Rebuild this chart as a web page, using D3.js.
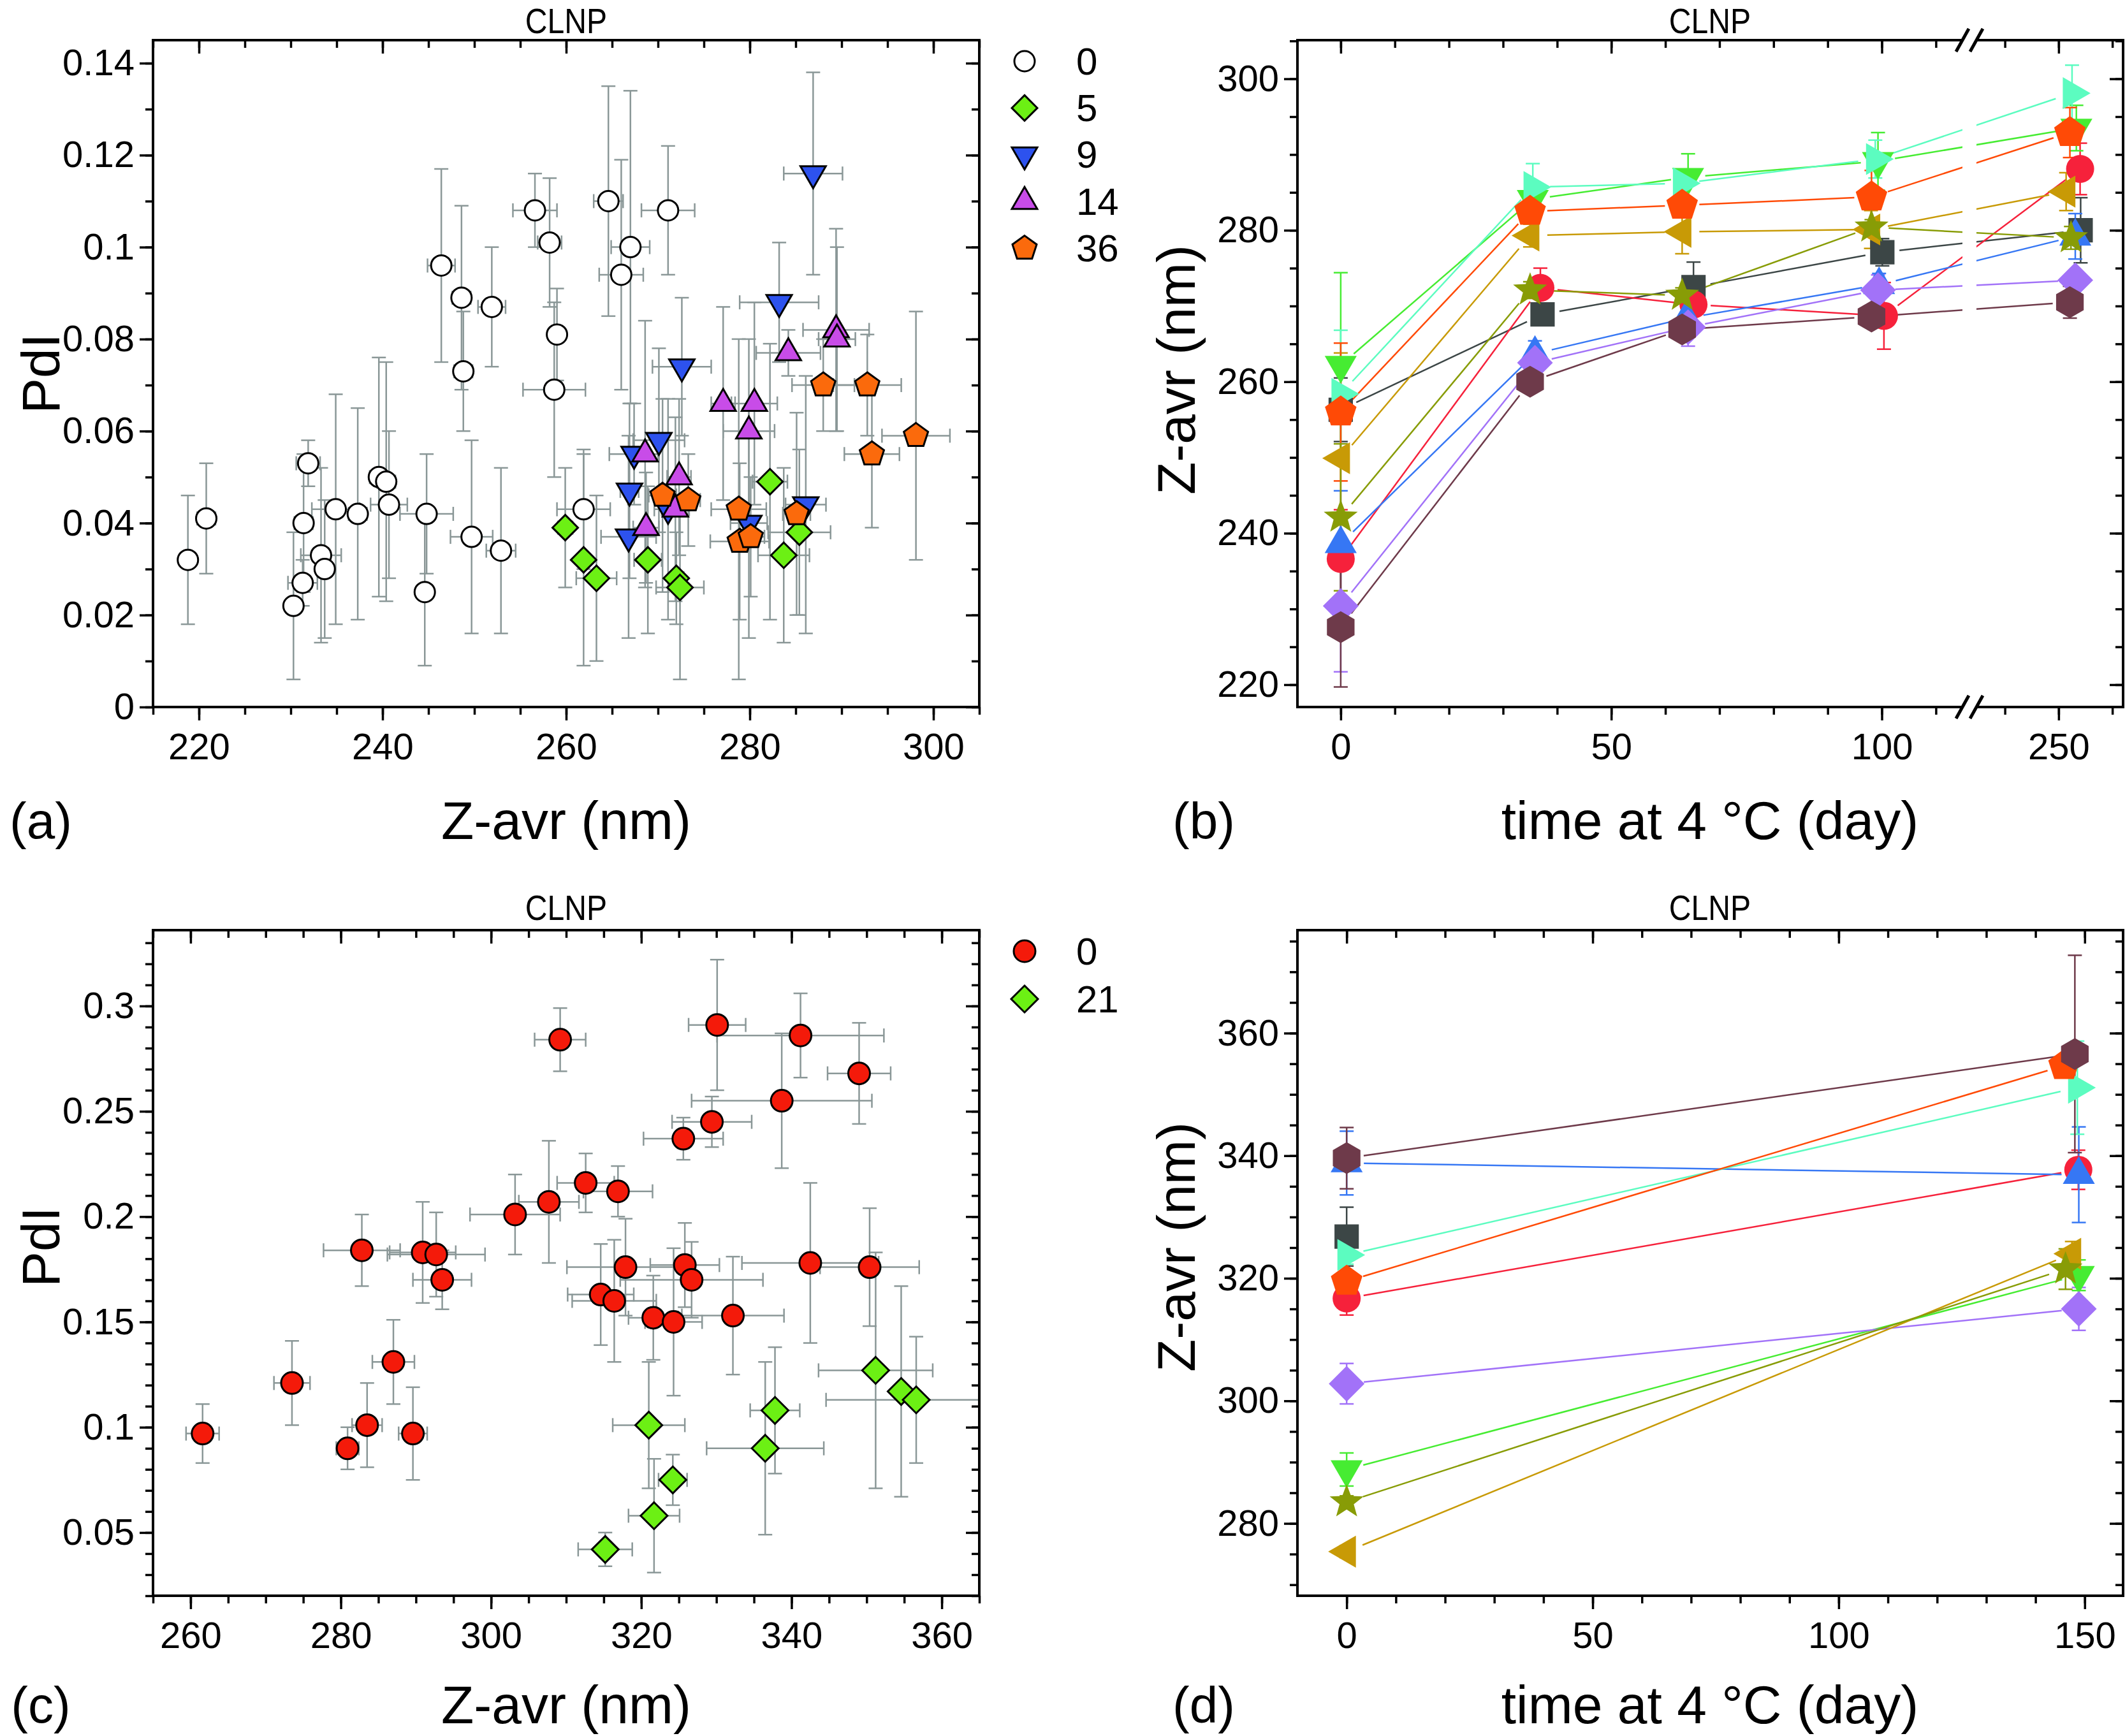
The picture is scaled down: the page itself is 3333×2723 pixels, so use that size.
<!DOCTYPE html>
<html><head><meta charset="utf-8">
<script src="https://cdnjs.cloudflare.com/ajax/libs/d3/7.8.5/d3.min.js"></script>
<style>body{margin:0;background:#fff}svg{display:block}</style>
</head><body><svg id="c" width="3333" height="2723"></svg>
<script>
// ================= DATA =================
// ---- Panel (a): PdI vs Z-avr, groups by storage day ----
const aGroupLabels = ["0","5","9","14","36"];
const a0_x  = [218.8,220.8,230.3,231.3,231.4,231.9,233.3,233.7,234.9,237.3,239.6,240.4,240.7,244.8,244.6,246.4,248.6,248.8,249.7,251.9,252.9,256.6,258.2,259.0,258.7,264.6,271.1,267.0,266.0,261.9];
const a0_y  = [0.032,0.041,0.022,0.027,0.040,0.053,0.033,0.030,0.043,0.042,0.050,0.049,0.044,0.042,0.025,0.096,0.089,0.073,0.037,0.087,0.034,0.108,0.101,0.081,0.069,0.110,0.108,0.100,0.094,0.043];
const a0_xe = [0,1.0,0,1.6,1.0,1.3,2.2,0.8,2.6,1.0,1.0,1.0,2.0,2.9,0,1.5,1.0,1.0,2.3,1.5,1.6,2.4,1.3,0.8,3.4,1.6,2.9,2.1,2.4,2.9];
const a0_ye = [0.014,0.012,0.016,0.005,0.015,0.005,0.019,0.015,0.025,0.023,0.026,0.026,0.016,0.013,0.016,0.021,0.020,0.013,0.021,0.013,0.018,0.008,0.014,0.010,0.019,0.025,0.014,0.034,0.025,0.013];

const a5_x  = [259.9,261.9,263.3,268.9,272.0,272.4,282.2,283.7,285.4];
const a5_y  = [0.039,0.032,0.028,0.032,0.028,0.026,0.049,0.033,0.038];
const a5_xe = [0.8,0.7,2.2,1.5,0.8,2.6,1.9,2.8,3.4];
const a5_ye = [0.013,0.023,0.018,0.016,0.010,0.020,0.030,0.019,0.018];

const a9_x  = [286.9,283.2,272.6,270.1,267.4,266.9,266.8,271.1,279.9,286.1];
const a9_y  = [0.116,0.088,0.074,0.058,0.055,0.047,0.037,0.043,0.040,0.044];
const a9_xe = [3.2,4.3,3.2,2.8,2.7,1.0,3.0,1.5,2.0,2.2];
const a9_ye = [0.022,0.013,0.015,0.020,0.011,0.019,0.022,0.024,0.025,0.028];

const a14_x  = [289.4,289.5,284.2,277.1,280.5,279.9,268.6,272.3,271.9,268.7];
const a14_y  = [0.082,0.080,0.077,0.066,0.066,0.060,0.055,0.050,0.043,0.039];
const a14_xe = [3.6,2.0,3.5,1.3,2.5,2.8,1.4,1.3,1.5,1.4];
const a14_ye = [0.022,0.020,0.005,0.021,0.022,0.020,0.029,0.017,0.020,0.012];

const a36_x  = [288.0,292.8,298.1,293.3,270.5,273.3,278.8,278.9,280.1,285.1];
const a36_y  = [0.070,0.070,0.059,0.055,0.046,0.045,0.043,0.036,0.037,0.042];
const a36_xe = [3.4,3.7,3.7,3.0,1.5,1.3,3.0,3.2,1.5,1.5];
const a36_ye = [0.010,0.011,0.027,0.016,0.021,0.010,0.037,0.017,0.013,0.022];

// ---- Panel (c): PdI vs Z-avr ----
const cGroupLabels = ["0","21"];
const c0_x  = [261.6,273.5,280.9,283.5,287.0,289.6,282.8,290.9,292.7,293.5,303.2,307.7,309.2,330.1,341.2,349.0,338.7,329.4,325.6,312.6,316.9,342.5,350.4,317.9,325.8,326.7,314.6,316.4,321.6,324.3,332.2];
const c0_y  = [0.097,0.121,0.090,0.101,0.131,0.097,0.184,0.183,0.182,0.170,0.201,0.207,0.284,0.291,0.286,0.268,0.255,0.245,0.237,0.216,0.212,0.178,0.176,0.176,0.177,0.170,0.163,0.160,0.152,0.150,0.153];
const c0_xe = [2.2,2.4,1.5,2.0,2.8,1.9,5.1,4.4,6.5,3.9,6.0,4.0,3.4,3.8,11.1,4.2,12.0,5.3,5.3,3.8,4.6,9.1,6.6,7.8,4.6,9.5,4.4,5.6,3.3,3.8,6.8];
const c0_ye = [0.014,0.020,0.010,0.020,0.020,0.022,0.017,0.024,0.020,0.014,0.019,0.029,0.015,0.031,0.020,0.024,0.032,0.012,0.010,0.014,0.012,0.038,0.028,0.023,0.020,0.018,0.024,0.029,0.020,0.035,0.028];

const c21_x  = [351.2,354.6,356.6,337.8,336.5,321.0,324.2,321.7,315.2];
const c21_y  = [0.127,0.117,0.113,0.108,0.090,0.101,0.075,0.058,0.042];
const c21_xe = [7.6,0,12.0,3.3,7.8,4.8,1.9,3.4,3.6];
const c21_ye = [0.056,0.050,0.030,0.030,0.041,0.030,0.012,0.027,0.008];

// ---- Panel (b): Z-avr vs time (broken axis) ----
const b_sq_day=[0,37.3,65.2,100.1,254.1], b_sq_val=[256.3,268.9,272.5,277.1,280.0], b_sq_err=[4.2,1.0,3.3,1.8,4.3];
const b_ci_day=[0,36.9,65.2,100.4,254.0], b_ci_val=[236.6,272.4,270.2,268.7,288.1], b_ci_err=[6.5,2.6,1.5,4.4,3.4];
const b_tu_day=[0,35.9,63.9,99.5,253.1],  b_tu_val=[238.6,263.7,268.4,272.8,279.2], b_tu_err=[7.0,1.7,2.0,1.5,3.0];
const b_td_day=[0,35.5,64.2,99.3,253.3],  b_td_val=[262.2,284.1,287.0,289.1,293.5], b_td_err=[12.2,2.3,3.1,3.8,3.0];
const b_di_day=[0,35.9,64.2,99.3,253.1],  b_di_val=[230.4,262.5,267.2,272.1,273.4], b_di_err=[8.7,1.0,2.5,2.0,1.0];
const b_tl_day=[0,35.0,63.1,98.0,251.4],  b_tl_val=[249.9,279.3,279.8,280.1,285.1], b_tl_err=[13.9,1.5,2.9,2.5,2.5];
const b_tr_day=[0,35.5,63.1,98.8,252.5],  b_tr_val=[258.4,285.7,286.2,289.4,298.1], b_tr_err=[8.4,3.1,1.5,2.5,3.7];
const b_pe_day=[0,35.0,63.1,98.1,252.1],  b_pe_val=[256.0,282.5,283.3,284.4,292.9], b_pe_err=[9.1,1.5,1.5,3.5,3.3];
const b_st_day=[0,35.0,63.1,98.1,252.3],  b_st_val=[242.1,272.1,271.4,280.4,279.0], b_st_err=[9.7,1.1,1.0,1.0,1.5];
const b_hx_day=[0,35.0,63.1,98.1,252.1],  b_hx_val=[227.6,260.0,266.9,268.6,270.5], b_hx_err=[7.9,1.0,1.0,1.0,2.1];

// ---- Panel (d): Z-avr vs time ----
const d_sq_day=[0],       d_sq_val=[326.8],       d_sq_err=[4.8];
const d_ci_day=[0,148.7], d_ci_val=[316.7,337.7], d_ci_err=[2.7,3.2];
const d_tu_day=[0,148.8], d_tu_val=[338.8,336.9], d_tu_err=[5.2,7.8];
const d_td_day=[0,148.8], d_td_val=[288.8,320.5], d_td_err=[2.7,2.5];
const d_di_day=[0,148.8], d_di_val=[302.8,315.0], d_di_err=[3.3,3.5];
const d_tl_day=[0,147.4], d_tl_val=[275.4,324.0], d_tl_err=[1.0,2.0];
const d_tr_day=[0,148.5], d_tr_val=[323.8,351.1], d_tr_err=[1.5,7.6];
const d_pe_day=[0,145.8], d_pe_val=[319.5,354.7], d_pe_err=[1.5,1.5];
const d_st_day=[0,146.1], d_st_val=[283.5,321.5], d_st_err=[1.0,3.3];
const d_hx_day=[0,148.0], d_hx_val=[339.6,356.6], d_hx_err=[5.0,16.1];

// ---- Ticks ----
const aXMajor=[220,240,260,280,300], aYMajor=[0,0.02,0.04,0.06,0.08,0.10,0.12,0.14];
const bXMajor1=[0,50,100], bXMajor2=[250], bYMajor=[220,240,260,280,300];
const cXMajor=[260,280,300,320,340,360], cYMajor=[0.05,0.10,0.15,0.20,0.25,0.30];
const dXMajor=[0,50,100,150], dYMajor=[280,300,320,340,360];

// ---- Texts ----
const titleText="CLNP";
const pdiTitle="PdI", zTitle="Z-avr (nm)", timeTitle="time at 4 °C (day)";
const panelLabels=["(a)","(b)","(c)","(d)"];

// ================= DRAWING =================
const FONT='"Liberation Sans", Arial, Helvetica, sans-serif';
const svg=d3.select("#c");
svg.append("rect").attr("width",3333).attr("height",2723).attr("fill","#fff");

function poly(n,R,start){
  const p=[];for(let i=0;i<n;i++){const a=(start+360*i/n)*Math.PI/180;p.push([R*Math.cos(a),R*Math.sin(a)]);}
  return "M"+p.map(q=>q[0].toFixed(2)+","+q[1].toFixed(2)).join("L")+"Z";
}
function starPath(R){
  const p=[];for(let i=0;i<10;i++){const r=i%2?R*0.42:R;const a=(-90+36*i)*Math.PI/180;p.push([r*Math.cos(a),r*Math.sin(a)]);}
  return "M"+p.map(q=>q[0].toFixed(2)+","+q[1].toFixed(2)).join("L")+"Z";
}
function shapePath(t,R){
  switch(t){
    case "circle": return `M${R},0A${R},${R} 0 1 1 ${-R},0A${R},${R} 0 1 1 ${R},0Z`;
    case "diamond": return poly(4,R,-90);
    case "square": return poly(4,R,45);
    case "triUp": return poly(3,R,-90);
    case "triDown": return poly(3,R,90);
    case "triLeft": return poly(3,R,180);
    case "triRight": return poly(3,R,0);
    case "pentagon": return poly(5,R,-90);
    case "hexagon": return poly(6,R,-90);
    case "star": return starPath(R);
  }
}
function styleAxis(sel){
  sel.select(".domain").remove();
  sel.attr("font-size",58).attr("font-family",FONT);
  sel.selectAll(".tick line").attr("stroke","#000").attr("stroke-width",3.5);
  sel.selectAll(".tick text").attr("fill","#000");
}
function drawAxes(g,box,xs,y,yMajor,yMinor,yFmt){
  xs.forEach(s=>{
    g.append("g").attr("transform",`translate(0,${box.b})`).call(d3.axisBottom(s.scale).tickValues(s.minor).tickSize(12).tickFormat("")).call(styleAxis);
    g.append("g").attr("transform",`translate(0,${box.b})`).call(d3.axisBottom(s.scale).tickValues(s.major).tickSize(21).tickPadding(20).tickFormat(s.fmt)).call(styleAxis);
    g.append("g").attr("transform",`translate(0,${box.t})`).call(d3.axisTop(s.scale).tickValues(s.minor).tickSize(-12).tickFormat("")).call(styleAxis);
    g.append("g").attr("transform",`translate(0,${box.t})`).call(d3.axisTop(s.scale).tickValues(s.major).tickSize(-21).tickFormat("")).call(styleAxis);
  });
  g.append("g").attr("transform",`translate(${box.l},0)`).call(d3.axisLeft(y).tickValues(yMinor).tickSize(12).tickFormat("")).call(styleAxis);
  g.append("g").attr("transform",`translate(${box.l},0)`).call(d3.axisLeft(y).tickValues(yMajor).tickSize(21).tickPadding(8).tickFormat(yFmt)).call(styleAxis);
  g.append("g").attr("transform",`translate(${box.r},0)`).call(d3.axisRight(y).tickValues(yMinor).tickSize(-12).tickFormat("")).call(styleAxis);
  g.append("g").attr("transform",`translate(${box.r},0)`).call(d3.axisRight(y).tickValues(yMajor).tickSize(-21).tickFormat("")).call(styleAxis);
  g.append("rect").attr("x",box.l).attr("y",box.t).attr("width",box.r-box.l).attr("height",box.b-box.t)
    .attr("fill","none").attr("stroke","#000").attr("stroke-width",4);
}
function txt(x,y,s,size,anchor,rot){
  const t=svg.append("text").attr("x",x).attr("y",y).text(s).attr("font-family",FONT).attr("font-size",size)
    .attr("text-anchor",anchor||"middle").attr("dominant-baseline","central").attr("fill","#000");
  if(rot) t.attr("transform",`rotate(${rot},${x},${y})`);
  return t;
}
function title(x,y,s){
  svg.append("text").attr("x",0).attr("y",0).text(s).attr("font-family",FONT).attr("font-size",56)
    .attr("text-anchor","middle").attr("dominant-baseline","central").attr("fill","#000")
    .attr("transform",`translate(${x},${y}) scale(0.86,1)`);
}
function clip(id,box){
  svg.append("clipPath").attr("id",id).append("rect").attr("x",box.l).attr("y",box.t).attr("width",box.r-box.l).attr("height",box.b-box.t);
}
const CAP=11;
function errBars(g,xs,ys,xe,ye,x,y,color,w){
  xs.forEach((xv,i)=>{
    const X=x(xv),Y=y(ys[i]);
    if(ye[i]>0){
      const y1=y(ys[i]+ye[i]),y2=y(ys[i]-ye[i]);
      g.append("line").attr("x1",X).attr("x2",X).attr("y1",y1).attr("y2",y2).attr("stroke",color).attr("stroke-width",w);
      [y1,y2].forEach(yy=>g.append("line").attr("x1",X-CAP).attr("x2",X+CAP).attr("y1",yy).attr("y2",yy).attr("stroke",color).attr("stroke-width",w));
    }
    if(xe && xe[i]>0){
      const x1=x(xv-xe[i]),x2=x(xv+xe[i]);
      g.append("line").attr("x1",x1).attr("x2",x2).attr("y1",Y).attr("y2",Y).attr("stroke",color).attr("stroke-width",w);
      [x1,x2].forEach(xx=>g.append("line").attr("x1",xx).attr("x2",xx).attr("y1",Y-CAP).attr("y2",Y+CAP).attr("stroke",color).attr("stroke-width",w));
    }
  });
}
function markers(g,xs,ys,x,y,shape,R,fill,stroke,sw){
  g.selectAll(null).data(xs.map((v,i)=>[v,ys[i]])).join("path")
    .attr("d",shapePath(shape,R)).attr("transform",d=>`translate(${x(d[0])},${y(d[1])})`)
    .attr("fill",fill).attr("stroke",stroke||"none").attr("stroke-width",sw||0).attr("stroke-linejoin","miter");
}
const fmtNum=d=>String(+d.toFixed(2));
const ERRGRAY="#8a9797";

// ---------- Panel (a) ----------
const A={l:240,r:1536,t:63,b:1109};
const xa=d3.scaleLinear().domain([215,305]).range([A.l,A.r]);
const ya=d3.scaleLinear().domain([0,0.145]).range([A.b,A.t]);
clip("clipA",A);
const aGroups=[
  {x:a0_x,y:a0_y,xe:a0_xe,ye:a0_ye,shape:"circle",R:16,fill:"#ffffff"},
  {x:a5_x,y:a5_y,xe:a5_xe,ye:a5_ye,shape:"diamond",R:20,fill:"#6cf014"},
  {x:a9_x,y:a9_y,xe:a9_xe,ye:a9_ye,shape:"triDown",R:23,fill:"#2d52ee"},
  {x:a14_x,y:a14_y,xe:a14_xe,ye:a14_ye,shape:"triUp",R:23,fill:"#c84ce8"},
  {x:a36_x,y:a36_y,xe:a36_xe,ye:a36_ye,shape:"pentagon",R:20,fill:"#fb6a0c"}
];
const gA=svg.append("g").attr("clip-path","url(#clipA)");
aGroups.forEach(s=>errBars(gA,s.x,s.y,s.xe,s.ye,xa,ya,ERRGRAY,2.5));
aGroups.forEach(s=>markers(gA,s.x,s.y,xa,ya,s.shape,s.R,s.fill,"#000",3));
drawAxes(svg.append("g"),A,[{scale:xa,major:aXMajor,minor:d3.range(215,306,5),fmt:d3.format("d")}],ya,aYMajor,d3.range(0,15).map(v=>v/100),fmtNum);
// legend (a)
aGroups.forEach((s,i)=>{
  const yy=96+73.4*i;
  svg.append("path").attr("d",shapePath(s.shape,s.R)).attr("transform",`translate(1607,${yy})`).attr("fill",s.fill).attr("stroke","#000").attr("stroke-width",3);
  txt(1688,yy,aGroupLabels[i],60,"start");
});

// ---------- Panel (c) ----------
const C={l:240,r:1536,t:1459,b:2503};
const xc=d3.scaleLinear().domain([255,365]).range([C.l,C.r]);
const yc=d3.scaleLinear().domain([0.02,0.336]).range([C.b,C.t]);
clip("clipC",C);
const cGroups=[
  {x:c0_x,y:c0_y,xe:c0_xe,ye:c0_ye,shape:"circle",R:17,fill:"#f41a0a"},
  {x:c21_x,y:c21_y,xe:c21_xe,ye:c21_ye,shape:"diamond",R:21,fill:"#6cf014"}
];
const gC=svg.append("g").attr("clip-path","url(#clipC)");
cGroups.forEach(s=>errBars(gC,s.x,s.y,s.xe,s.ye,xc,yc,ERRGRAY,2.5));
cGroups.forEach(s=>markers(gC,s.x,s.y,xc,yc,s.shape,s.R,s.fill,"#000",3));
drawAxes(svg.append("g"),C,[{scale:xc,major:cXMajor,minor:d3.range(255,366,5),fmt:d3.format("d")}],yc,cYMajor,d3.range(2,34).map(v=>v/100),fmtNum);
cGroups.forEach((s,i)=>{
  const yy=1492+75*i;
  svg.append("path").attr("d",shapePath(s.shape,s.R)).attr("transform",`translate(1607,${yy})`).attr("fill",s.fill).attr("stroke","#000").attr("stroke-width",3);
  txt(1688,yy,cGroupLabels[i],60,"start");
});

// ---------- shared series styles for (b)/(d) ----------
const seriesStyle=[
  {key:"sq",shape:"square",R:27,color:"#3c4646"},
  {key:"ci",shape:"circle",R:22,color:"#f6213b"},
  {key:"tu",shape:"triUp",R:29,color:"#3677f4"},
  {key:"td",shape:"triDown",R:29,color:"#46ec32"},
  {key:"di",shape:"diamond",R:28,color:"#a272f8"},
  {key:"tl",shape:"triLeft",R:29,color:"#c89a06"},
  {key:"tr",shape:"triRight",R:29,color:"#5cfcc0"},
  {key:"pe",shape:"pentagon",R:26,color:"#ff4a06"},
  {key:"st",shape:"star",R:28,color:"#889c06"},
  {key:"hx",shape:"hexagon",R:25,color:"#6e3a4a"}
];
const bData={sq:[b_sq_day,b_sq_val,b_sq_err],ci:[b_ci_day,b_ci_val,b_ci_err],tu:[b_tu_day,b_tu_val,b_tu_err],td:[b_td_day,b_td_val,b_td_err],di:[b_di_day,b_di_val,b_di_err],tl:[b_tl_day,b_tl_val,b_tl_err],tr:[b_tr_day,b_tr_val,b_tr_err],pe:[b_pe_day,b_pe_val,b_pe_err],st:[b_st_day,b_st_val,b_st_err],hx:[b_hx_day,b_hx_val,b_hx_err]};
const dData={sq:[d_sq_day,d_sq_val,d_sq_err],ci:[d_ci_day,d_ci_val,d_ci_err],tu:[d_tu_day,d_tu_val,d_tu_err],td:[d_td_day,d_td_val,d_td_err],di:[d_di_day,d_di_val,d_di_err],tl:[d_tl_day,d_tl_val,d_tl_err],tr:[d_tr_day,d_tr_val,d_tr_err],pe:[d_pe_day,d_pe_val,d_pe_err],st:[d_st_day,d_st_val,d_st_err],hx:[d_hx_day,d_hx_val,d_hx_err]};

const GAP=27;
function lineSeries(g,data,x,y){
  seriesStyle.forEach(s=>{
    const [days,vals,errs]=data[s.key];
    for(let i=0;i<days.length-1;i++){
      const x1=x(days[i]),y1=y(vals[i]),x2=x(days[i+1]),y2=y(vals[i+1]);
      const dx=x2-x1,dy=y2-y1,L=Math.hypot(dx,dy);
      if(L<=2*GAP) continue;
      g.append("line").attr("x1",x1+dx*GAP/L).attr("y1",y1+dy*GAP/L).attr("x2",x2-dx*GAP/L).attr("y2",y2-dy*GAP/L)
        .attr("stroke",s.color).attr("stroke-width",2.5);
    }
  });
  seriesStyle.forEach(s=>{
    const [days,vals,errs]=data[s.key];
    errBars(g,days,vals,null,errs,x,y,s.color,2.5);
  });
  seriesStyle.forEach(s=>{
    const [days,vals]=data[s.key];
    markers(g,days,vals,x,y,s.shape,s.R,s.color);
  });
}

// ---------- Panel (b) ----------
const B={l:2035,r:3330,t:63,b:1109};
const BRK=3089;
const xb1=d3.scaleLinear().domain([-8,116.2]).range([B.l,BRK]);
const xb2=d3.scaleLinear().domain([233.4,262]).range([BRK,B.r]);
const xb=d=>d<175?xb1(d):xb2(d);
const yb=d3.scaleLinear().domain([217.05,305.1]).range([B.b,B.t]);
clip("clipB",B);
const gB=svg.append("g").attr("clip-path","url(#clipB)");
lineSeries(gB,bData,xb,yb);
drawAxes(svg.append("g"),B,[
  {scale:xb1,major:bXMajor1,minor:d3.range(0,111,10),fmt:d3.format("d")},
  {scale:xb2,major:bXMajor2,minor:[240,250,260],fmt:d3.format("d")}
],yb,bYMajor,d3.range(220,306,5),d3.format("d"));
// axis break
svg.append("rect").attr("x",BRK-11).attr("y",B.t-20).attr("width",22).attr("height",B.b-B.t+40).attr("fill","#fff");
[B.t,B.b].forEach(yy=>{
  [BRK-11,BRK+11].forEach(xx=>{
    svg.append("line").attr("x1",xx-10).attr("y1",yy+18).attr("x2",xx+10).attr("y2",yy-18).attr("stroke","#000").attr("stroke-width",5);
  });
});

// ---------- Panel (d) ----------
const D={l:2035,r:3330,t:1459,b:2503};
const xd=d3.scaleLinear().domain([-10,157.8]).range([D.l,D.r]);
const yd=d3.scaleLinear().domain([268.2,376.8]).range([D.b,D.t]);
clip("clipD",D);
const gD=svg.append("g").attr("clip-path","url(#clipD)");
lineSeries(gD,dData,xd,yd);
drawAxes(svg.append("g"),D,[{scale:xd,major:dXMajor,minor:d3.range(0,151,10),fmt:d3.format("d")}],yd,dYMajor,d3.range(270,377,5),d3.format("d"));

// ---------- Titles & labels ----------
title(888,33,titleText); title(2682,33,titleText);
title(888,1424,titleText); title(2682,1424,titleText);
txt(888,1287,zTitle,84); txt(888,2674,zTitle,84);
txt(2682,1287,timeTitle,84); txt(2682,2674,timeTitle,84);
txt(64,586,pdiTitle,84,"middle",-90); txt(64,1956,pdiTitle,84,"middle",-90);
txt(1845,580,zTitle,84,"middle",-90); txt(1845,1956,zTitle,84,"middle",-90);
txt(64,1287,panelLabels[0],80); txt(1888,1287,panelLabels[1],80);
txt(64,2674,panelLabels[2],80); txt(1888,2674,panelLabels[3],80);
</script></body></html>
